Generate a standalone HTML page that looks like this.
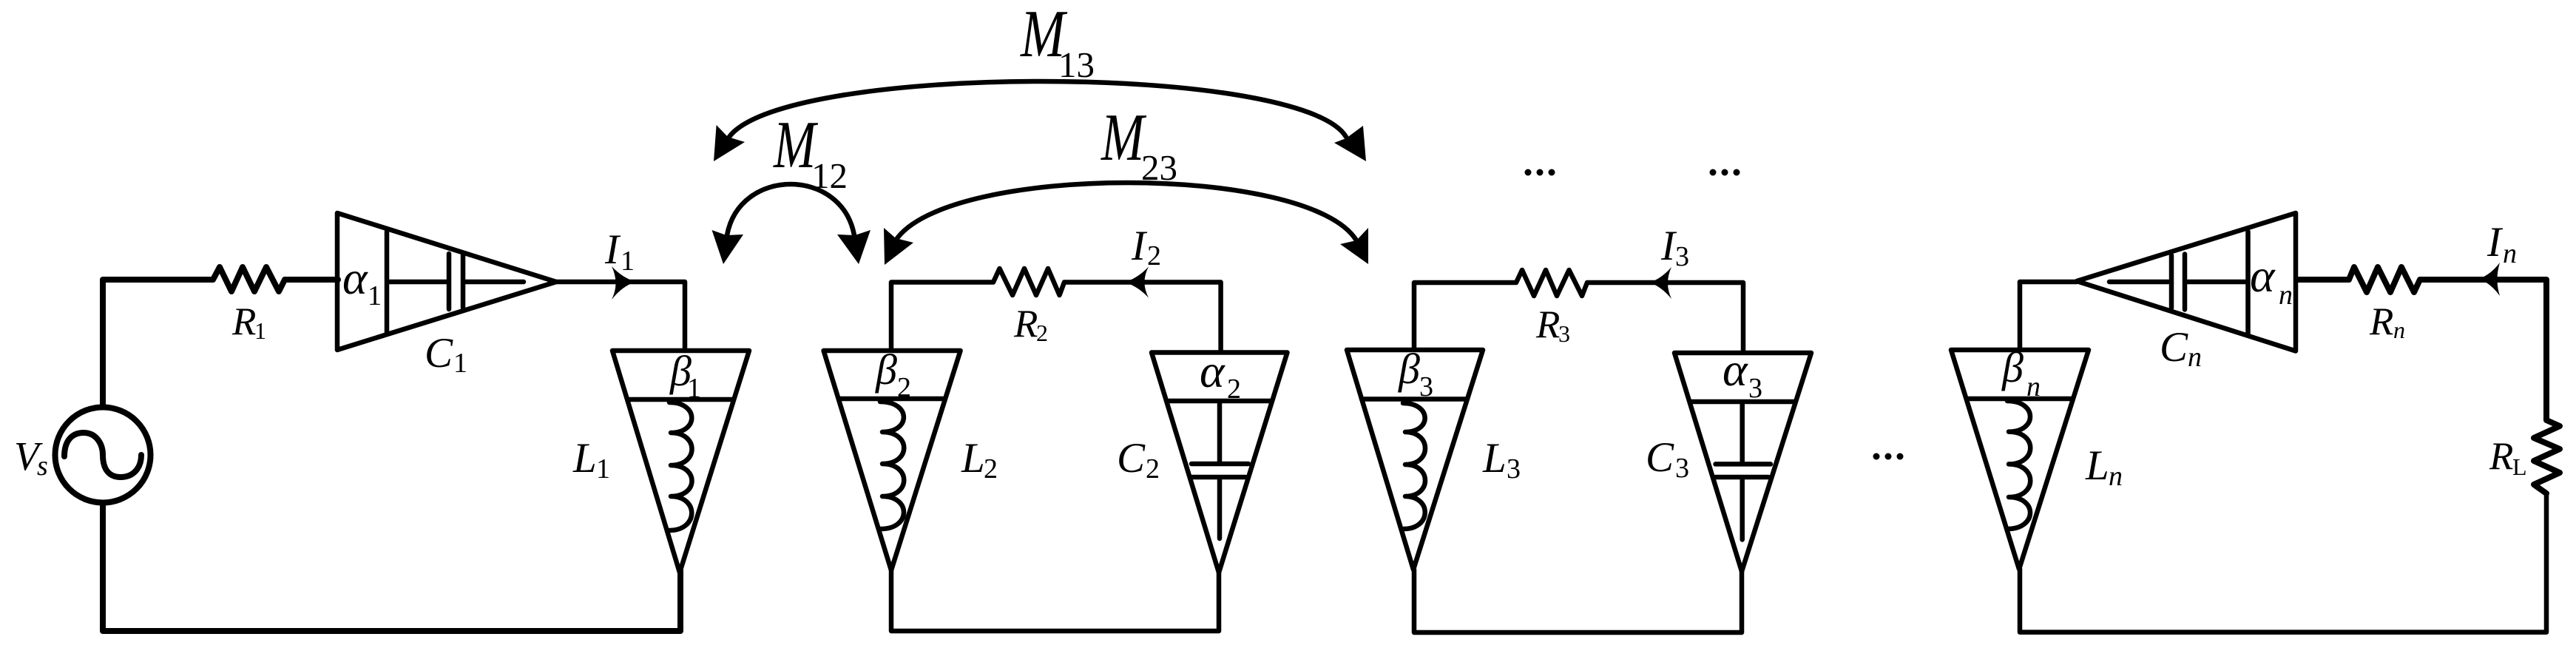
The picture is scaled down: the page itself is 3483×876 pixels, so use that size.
<!DOCTYPE html>
<html><head><meta charset="utf-8"><style>
html,body{margin:0;padding:0;background:#fff}
svg{display:block}
.w{fill:none;stroke:#000;stroke-width:6.5;stroke-linejoin:round;stroke-linecap:round}
.k{fill:none;stroke:#000;stroke-width:8;stroke-linejoin:round;stroke-linecap:round}
.a{fill:#000;stroke:none}
text{font-family:"Liberation Serif",serif;fill:#000}
.t{font-size:57px;font-style:italic}
.r{font-size:53px;font-style:italic}
.g{font-size:64px;font-style:italic}
.b{font-size:58px;font-style:italic}
.s{font-size:38px}
.q{font-size:32px}
.si{font-size:38px;font-style:italic}
.qi{font-size:32px;font-style:italic}
.m{font-size:91px;font-style:italic}
.ms{font-size:49px}
</style></head><body>
<svg xmlns="http://www.w3.org/2000/svg" width="3483" height="876" viewBox="0 0 3483 876">
<rect width="3483" height="876" fill="#fff"/>
<!-- wires -->
<path class="k" d="M139,548V378H288L297,361L313,394L328,361L344,394L360,361L377,394L385,378H457"/>
<path class="k" d="M139,682V853H920V771"/>
<path class="w" d="M752,381H926V474"/>
<path class="w" d="M1205,472V381.5H1343L1351.5,363L1369,399L1385,363L1401,399L1417,363L1432.5,399L1439,381.5H1650.6V475"/>
<path class="w" d="M1205,771V853H1648V774"/>
<path class="w" d="M1912,472V382H2050L2058,365L2074,400L2090,365L2105,400L2121.5,365L2139,400L2146,382H2357V475"/>
<path class="w" d="M1912,770V855H2355V772"/>
<path class="w" d="M2731,473V381H2808"/>
<path class="w" d="M2731,769V854.6H3443V667"/>
<path class="k" d="M3443,667L3426,655L3461,639L3426,623L3461,607L3426,592L3461,576L3443,568V378H3272L3264,395L3247,361L3232,395L3215,361L3200,395L3183,361L3176,378H3107"/>
<!-- source -->
<circle class="k" cx="139" cy="615" r="64.5"/>
<path class="k" d="M87,617C87,595 98,585 113,585C130,585 139,600 139,615C139,635 148,645 163,645C180,645 191,633 191,615"/>
<!-- C1 -->
<path class="w" d="M456,288L752,381L456,473Z"/>
<path class="w" d="M523,313V451M523,381H603M607,343V418M626,345V416M628,381H708"/>
<!-- L1 -->
<path class="w" d="M828,474H1013L919,774Z"/>
<path class="w" d="M849,540H989M905,544C945,544 945,585 907,585C945,585 945,629 907,629C945,629 945,671 907,671C945,671 945,717 905,717"/>
<!-- L2 -->
<path class="w" d="M1113.6,474H1298.6L1205,771Z"/>
<path class="w" d="M1136,539H1275M1190,543C1232,543 1232,584 1193,584C1232,584 1232,627 1193,627C1232,627 1232,671 1193,671C1232,671 1232,715 1191,715"/>
<!-- C2 -->
<path class="w" d="M1557,476.5H1740.5L1648,774Z"/>
<path class="w" d="M1578,542H1719.5M1649,542V627M1611,627H1688M1612,645H1684M1649,645V728"/>
<!-- L3 -->
<path class="w" d="M1821,473H2005L1911,770Z"/>
<path class="w" d="M1841,539.5H1984M1897,545C1936,545 1936,584 1900,584C1936,584 1936,628 1900,628C1936,628 1936,671 1900,671C1936,671 1936,715 1898,715"/>
<!-- C3 -->
<path class="w" d="M2264,477H2449L2355,772.5Z"/>
<path class="w" d="M2287,543H2426M2355.7,543V627M2319.5,627.4H2394M2319.5,645H2391M2355.7,645V729.5"/>
<!-- Ln -->
<path class="w" d="M2638,473H2824L2730,769.4Z"/>
<path class="w" d="M2659,539H2801M2714,542C2755,542 2755,583.6 2716,583.6C2755,583.6 2755,627.4 2716,627.4C2755,627.4 2755,672 2716,672C2755,672 2755,715 2714,715"/>
<!-- Cn -->
<path class="w" d="M2808,380L3104,288V474.5Z"/>
<path class="w" d="M3039.5,313V451M2852,381H2931.6M2958,381H3039.5M2954,343.5V418.5M2936,345V416.5"/>
<!-- current arrows -->
<path class="a" transform="translate(858,381)" d="M-31,-21Q-16,-5 2,0Q-16,5 -31,24Q-20,2 -31,-21Z"/>
<path class="a" transform="translate(1522,381.5) scale(-1,1)" d="M-31,-21Q-16,-5 2,0Q-16,5 -31,21Q-20,0 -31,-21Z"/>
<path class="a" transform="translate(2232,382) scale(-1,1)" d="M-28,-21Q-14,-5 2,0Q-14,5 -28,22Q-18,1 -28,-21Z"/>
<path class="a" transform="translate(3353,377) scale(-1,1)" d="M-27,-22Q-14,-5 2,0Q-14,5 -27,23Q-20,1 -27,-22Z"/>
<!-- coupling arcs -->
<path class="w" d="M986,185C1060,85 1760,85 1820,185"/>
<path class="w" d="M1211,325C1280,221 1770,221 1834,325"/>
<path class="w" d="M983,318C1000,226 1138,226 1155,318"/>
<path class="a" d="M965,218L968.6,169L984,185L1007,192Z"/>
<path class="a" d="M1847,218L1843,170L1820,187L1804,193Z"/>
<path class="a" d="M978,357L962.5,311L982,318L1005,317Z"/>
<path class="a" d="M1161,357L1132,317L1156,318L1177,311Z"/>
<path class="a" d="M1196,358L1195,308L1211,322L1235,328Z"/>
<path class="a" d="M1850,357L1850,308L1834,325L1812,330Z"/>
<!-- dots -->
<g class="a">
<circle cx="2066" cy="233" r="4.5"/><circle cx="2082" cy="233" r="4.5"/><circle cx="2098" cy="233" r="4.5"/>
<circle cx="2316" cy="233" r="4.5"/><circle cx="2332" cy="233" r="4.5"/><circle cx="2348" cy="233" r="4.5"/>
<circle cx="2537" cy="617" r="4.5"/><circle cx="2553" cy="617" r="4.5"/><circle cx="2569" cy="617" r="4.5"/>
</g>
<!-- labels -->
<text class="t" style="font-size:55px" x="19" y="635">V</text><text class="si" x="50" y="642">s</text>
<text class="r" x="314" y="452">R</text><text class="q" x="344" y="458">1</text>
<text class="g" x="463" y="397">α</text><text class="s" x="497" y="412">1</text>
<text class="t" x="574" y="496">C</text><text class="s" x="613" y="503">1</text>
<text class="t" x="818" y="356">I</text><text class="s" x="839" y="365">1</text>
<text class="b" x="906" y="521">β</text><text class="s" x="929" y="537">1</text>
<text class="t" x="775" y="638">L</text><text class="s" x="806" y="646">1</text>
<text class="m" x="1380" y="76" textLength="60" lengthAdjust="spacingAndGlyphs">M</text><text class="ms" x="1431" y="104">13</text>
<text class="m" x="1046" y="226" textLength="57" lengthAdjust="spacingAndGlyphs">M</text><text class="ms" x="1097" y="254">12</text>
<text class="m" x="1489" y="216" textLength="58" lengthAdjust="spacingAndGlyphs">M</text><text class="ms" x="1543" y="243">23</text>
<text class="t" x="1530" y="351">I</text><text class="s" x="1551" y="358">2</text>
<text class="r" x="1371" y="455">R</text><text class="q" x="1401" y="461">2</text>
<text class="b" x="1184" y="519">β</text><text class="s" x="1213" y="536">2</text>
<text class="t" x="1300" y="638">L</text><text class="s" x="1330" y="646">2</text>
<text class="g" x="1622" y="523">α</text><text class="s" x="1659" y="538">2</text>
<text class="t" x="1510" y="638">C</text><text class="s" x="1549" y="646">2</text>
<text class="t" x="2246" y="351">I</text><text class="s" x="2265" y="359">3</text>
<text class="r" x="2077" y="456">R</text><text class="q" x="2107" y="462">3</text>
<text class="b" x="1891" y="518">β</text><text class="s" x="1919" y="535">3</text>
<text class="t" x="2005" y="638">L</text><text class="s" x="2037" y="646">3</text>
<text class="g" x="2329" y="521">α</text><text class="s" x="2364" y="537">3</text>
<text class="t" x="2225" y="637">C</text><text class="s" x="2265" y="645">3</text>
<text class="t" x="3363" y="346">I</text><text class="si" x="3384" y="355">n</text>
<text class="r" x="3204" y="452">R</text><text class="qi" x="3236" y="457">n</text>
<text class="g" x="3042" y="394">α</text><text class="si" x="3081" y="411">n</text>
<text class="t" x="2920" y="488">C</text><text class="si" x="2958" y="495">n</text>
<text class="b" x="2707" y="516">β</text><text class="si" x="2740" y="535">n</text>
<text class="t" x="2820" y="648">L</text><text class="si" x="2851" y="656">n</text>
<text class="r" x="3366" y="634">R</text><text class="q" x="3397" y="642">L</text>
</svg>
</body></html>
